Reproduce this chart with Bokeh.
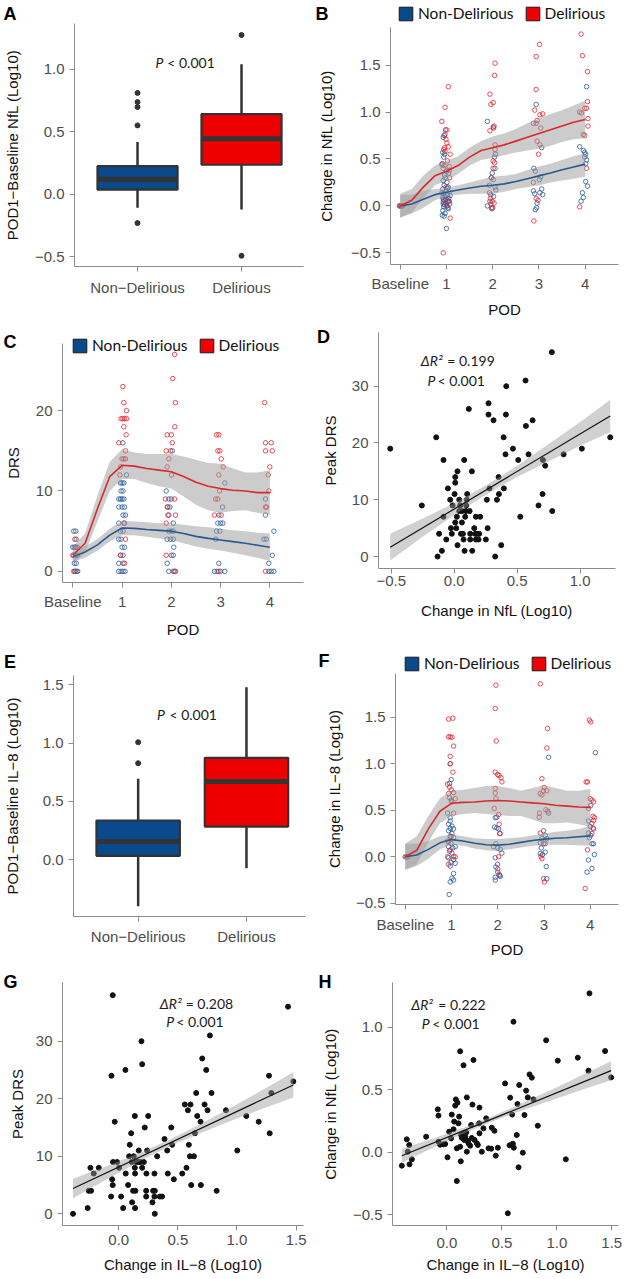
from bokeh.plotting import figure
from bokeh.models import (Range1d, FixedTicker, Label, Legend, LegendItem,
                          CustomJSTickFormatter)
from bokeh.layouts import row, column
from bokeh.embed import file_html
from bokeh.resources import INLINE

AX_FONT = "Liberation Sans"
ANN_FONT = "Lato"
NAN = float("nan")

# ---------------- shared categories / ticks ----------------
GROUPS = ["Non-Delirious", "Delirious"]
BOX_CATS = ["Non\u2212Delirious", "Delirious"]
POD_TICKS = [0, 1, 2, 3, 4]
POD_LABELS = ["Baseline", "1", "2", "3", "4"]

# ---------------- Panel A: POD1-Baseline NfL box plot ----------------
A_q1 = [0.035, 0.235]
A_med = [0.118, 0.444]
A_q3 = [0.224, 0.641]
A_lo = [-0.109, -0.123]
A_hi = [0.417, 1.04]
A_out = [[0.81, 0.737, 0.697, 0.55, -0.232], [1.274, -0.494]]

# ---------------- Panel E: POD1-Baseline IL-8 box plot ----------------
E_q1 = [0.032, 0.283]
E_med = [0.155, 0.67]
E_q3 = [0.335, 0.873]
E_lo = [-0.40, -0.075]
E_hi = [0.693, 1.48]
E_out = [[1.007, 0.827], []]

# ---------------- smooth curves (B, C, F) ----------------
SMOOTH_X = [0, 0.25, 0.5, 0.75, 1.0, 1.25, 1.5, 1.75, 2.0, 2.25, 2.5, 2.75, 3.0, 3.25, 3.5, 3.75, 4.0]

B_fit_d = [0.0, 0.06, 0.20, 0.32, 0.37, 0.43, 0.52, 0.59, 0.62, 0.65, 0.69, 0.73, 0.77, 0.81, 0.85, 0.89, 0.92]
B_lo_d = [-0.13, -0.07, 0.08, 0.22, 0.27, 0.34, 0.43, 0.49, 0.51, 0.54, 0.57, 0.59, 0.61, 0.64, 0.68, 0.71, 0.72]
B_hi_d = [0.13, 0.18, 0.32, 0.43, 0.48, 0.53, 0.62, 0.69, 0.74, 0.77, 0.82, 0.88, 0.93, 0.98, 1.02, 1.07, 1.12]
B_fit_n = [0.0, 0.02, 0.07, 0.12, 0.145, 0.17, 0.19, 0.21, 0.22, 0.235, 0.26, 0.29, 0.32, 0.35, 0.385, 0.415, 0.445]
B_lo_n = [-0.12, -0.08, -0.02, 0.06, 0.10, 0.12, 0.13, 0.13, 0.13, 0.15, 0.18, 0.20, 0.22, 0.25, 0.27, 0.29, 0.31]
B_hi_n = [0.12, 0.12, 0.16, 0.18, 0.19, 0.22, 0.25, 0.28, 0.31, 0.32, 0.34, 0.38, 0.42, 0.45, 0.49, 0.53, 0.56]

C_fit_d = [2.0, 3.5, 7.8, 11.8, 13.2, 13.1, 12.8, 12.6, 12.4, 11.8, 11.1, 10.6, 10.3, 10.1, 10.0, 9.8, 9.8]
C_lo_d = [0.9, 2.3, 6.2, 10.0, 11.5, 11.5, 11.0, 10.6, 10.3, 9.3, 8.3, 7.6, 7.3, 7.5, 7.6, 7.3, 7.0]
C_hi_d = [3.1, 4.7, 9.4, 13.6, 15.2, 14.8, 14.6, 14.6, 14.6, 14.3, 13.9, 13.5, 13.4, 12.8, 12.3, 12.3, 12.6]
C_fit_n = [1.8, 2.4, 3.3, 4.5, 5.4, 5.35, 5.2, 5.1, 5.0, 4.7, 4.35, 4.1, 3.9, 3.7, 3.5, 3.25, 3.0]
C_lo_n = [1.2, 1.7, 2.6, 3.7, 4.5, 4.5, 4.3, 4.1, 3.9, 3.5, 3.1, 2.8, 2.6, 2.3, 2.0, 1.7, 1.3]
C_hi_n = [2.4, 3.1, 4.0, 5.3, 6.3, 6.2, 6.1, 6.0, 6.0, 5.8, 5.6, 5.5, 5.3, 5.1, 5.0, 4.8, 4.7]

F_fit_d = [0.0, 0.07, 0.30, 0.49, 0.575, 0.585, 0.59, 0.60, 0.605, 0.60, 0.59, 0.58, 0.57, 0.555, 0.545, 0.535, 0.53]
F_lo_d = [-0.14, -0.08, 0.16, 0.36, 0.44, 0.46, 0.47, 0.46, 0.45, 0.44, 0.44, 0.40, 0.36, 0.36, 0.37, 0.35, 0.32]
F_hi_d = [0.14, 0.22, 0.44, 0.63, 0.71, 0.72, 0.74, 0.76, 0.76, 0.74, 0.71, 0.74, 0.77, 0.74, 0.71, 0.71, 0.73]
F_fit_n = [0.0, 0.02, 0.08, 0.15, 0.185, 0.17, 0.145, 0.13, 0.125, 0.135, 0.155, 0.175, 0.19, 0.20, 0.205, 0.215, 0.225]
F_lo_n = [-0.14, -0.10, -0.02, 0.08, 0.13, 0.12, 0.09, 0.07, 0.06, 0.08, 0.10, 0.12, 0.13, 0.13, 0.13, 0.125, 0.12]
F_hi_n = [0.14, 0.14, 0.17, 0.22, 0.24, 0.22, 0.20, 0.19, 0.19, 0.20, 0.21, 0.23, 0.25, 0.27, 0.28, 0.30, 0.33]

# ---------------- Panel B points (POD, change in NfL) ----------------
B_ND = [
    (-0.02, 0.0), (0.00, 0.0), (0.03, 0.0), (0.06, 0.0),
    (0.98, 0.81), (0.95, 0.75), (0.93, 0.73), (0.92, 0.57), (0.96, 0.55), (0.94, 0.52), (0.91, 0.45), (0.93, 0.40),
    (1.00, 0.37), (1.05, 0.35), (0.97, 0.30), (0.93, 0.27), (1.01, 0.25), (0.95, 0.22), (1.04, 0.20), (0.92, 0.18),
    (0.99, 0.16), (1.06, 0.15), (0.94, 0.13), (1.02, 0.12), (0.97, 0.10), (0.92, 0.09), (1.05, 0.08), (0.99, 0.07),
    (0.95, 0.06), (1.03, 0.05), (0.93, 0.04), (0.98, 0.03), (1.07, 0.02), (0.96, 0.01), (1.01, 0.00), (0.94, -0.01),
    (1.04, -0.03), (0.92, -0.05), (0.97, -0.08), (0.91, -0.10), (0.95, -0.11), (1.00, -0.24), (1.08, 0.11),
    (0.90, 0.14), (1.02, 0.19), (0.96, 0.33), (1.06, 0.05), (0.93, 0.02), (1.03, -0.02),
    (1.885, 0.90), (2.01, 0.84), (2.06, 0.55), (2.04, 0.52), (2.05, 0.40), (1.99, 0.35), (1.97, 0.30), (2.01, 0.28),
    (1.93, 0.22), (2.05, 0.20), (2.07, 0.17), (1.96, 0.12), (2.02, 0.10), (1.94, 0.05), (1.885, 0.00),
    (1.98, -0.02), (1.98, -0.03),
    (2.94, 1.08), (2.94, 0.88), (3.06, 0.62), (2.89, 0.40), (2.92, 0.37), (3.04, 0.31), (3.01, 0.28), (3.06, 0.18),
    (2.88, 0.16), (3.02, 0.14), (2.91, 0.13), (3.08, 0.12), (2.96, 0.03), (2.95, -0.02), (2.92, -0.04),
    (4.03, 1.27), (3.88, 0.63), (3.96, 0.59), (3.99, 0.57), (4.01, 0.55), (3.99, 0.52), (4.03, 0.49), (4.01, 0.26),
    (4.05, 0.21), (3.94, 0.14), (3.96, 0.09), (3.91, 0.05), (4.01, 0.45),
]
B_D = [
    (0.01, 0.0), (0.04, 0.0),
    (1.04, 1.27), (0.97, 1.05), (0.90, 0.90), (1.01, 0.81), (0.97, 0.76), (0.99, 0.71), (1.01, 0.67), (1.04, 0.63),
    (0.94, 0.60), (1.08, 0.55), (0.90, 0.44), (0.95, 0.43), (1.06, 0.38), (1.07, 0.30), (0.96, 0.62), (1.02, 0.48),
    (0.99, 0.20), (0.93, 0.07), (1.05, 0.05), (1.01, 0.0), (1.08, -0.13), (0.93, -0.50), (1.06, 0.42), (0.97, 0.58),
    (2.05, 1.52), (2.04, 1.39), (1.94, 1.19), (2.01, 1.10), (1.96, 1.08), (2.03, 0.85), (2.02, 0.83), (1.94, 0.80),
    (2.05, 0.65), (2.05, 0.60), (2.01, 0.48), (2.04, 0.46), (2.01, 0.40), (1.97, 0.30), (1.93, 0.14), (1.95, 0.08),
    (1.99, 0.05), (2.03, 0.03), (1.96, 0.02), (2.00, -0.02),
    (3.01, 1.72), (2.94, 1.59), (2.94, 1.24), (2.91, 1.02), (3.08, 0.98), (3.02, 0.97), (2.96, 0.91), (2.88, 0.88),
    (3.04, 0.83), (2.96, 0.69), (3.02, 0.65), (2.99, 0.55), (2.88, 0.25), (2.94, 0.08), (2.98, 0.06), (2.89, -0.16),
    (3.91, 1.83), (3.94, 1.60), (4.05, 1.43), (4.05, 1.11), (4.03, 1.04), (3.99, 1.04), (3.88, 1.00), (3.92, 0.99),
    (4.06, 0.93), (4.06, 0.85), (3.96, 0.76), (3.99, 0.75), (4.03, 0.40), (3.88, -0.01),
]

# ---------------- Panel C points (POD, DRS) ----------------
C_ND = [
    (0.02, 0), (0.05, 0), (0.08, 0), (0.10, 0), (0.03, 1), (0.07, 1), (0.02, 2), (0.06, 2), (0.09, 2), (0.00, 3),
    (0.03, 3), (0.06, 3), (0.09, 3), (0.07, 4), (0.02, 5), (0.06, 5),
    (1.016, 16), (1.09, 12), (0.968, 11), (1.00, 11), (1.036, 11), (0.98, 10), (1.02, 10), (0.934, 9), (0.968, 9),
    (1.00, 9), (1.036, 9), (0.934, 8), (1.00, 8), (1.05, 8), (1.02, 7), (1.07, 7), (0.934, 6), (1.05, 6), (0.968, 5),
    (1.02, 5), (0.934, 4), (0.98, 4), (1.00, 3), (1.05, 3), (0.968, 2), (1.02, 2), (0.934, 1), (1.02, 1), (0.934, 0),
    (0.98, 0), (1.02, 0), (1.06, 0),
    (2.02, 15), (1.896, 10), (1.95, 9), (2.0, 9), (1.93, 8), (1.97, 8), (1.95, 7), (2.04, 6), (1.95, 5), (2.0, 5),
    (2.04, 5), (1.916, 4), (1.984, 4), (2.04, 4), (2.05, 3), (2.0, 2), (2.04, 2), (1.916, 1), (1.95, 0), (2.04, 0),
    (2.085, 0),
    (3.087, 11), (3.04, 8), (2.965, 7), (2.945, 6), (3.0, 6), (3.047, 6), (2.92, 5), (2.986, 5), (2.9, 4), (2.965, 1),
    (2.877, 0), (2.93, 0), (3.0, 0), (3.087, 0),
    (3.913, 9), (3.913, 7), (4.083, 5), (3.88, 4), (3.927, 4), (4.05, 2), (3.98, 1), (3.98, 0), (4.028, 0), (4.083, 0),
]
C_D = [
    (0.04, 0), (0.00, 2), (0.06, 3), (0.04, 4),
    (1.016, 23), (1.036, 21), (1.09, 20), (0.98, 19), (1.016, 19), (1.05, 19), (1.09, 19), (1.036, 18), (1.083, 17),
    (0.934, 16), (1.07, 15), (1.00, 14), (1.036, 14), (1.07, 14), (0.968, 13), (0.955, 12), (1.036, 6), (1.07, 4),
    (0.968, 2), (1.05, 1),
    (2.065, 27), (2.03, 24), (2.085, 21), (2.07, 18), (1.916, 17), (2.0, 17), (2.02, 16), (1.896, 15), (1.984, 15),
    (1.95, 14), (1.916, 13), (2.004, 12), (1.88, 9), (2.065, 9), (1.916, 8), (1.93, 7), (2.085, 7), (1.896, 6),
    (1.896, 2), (2.065, 0),
    (2.92, 17), (2.965, 17), (2.945, 15), (2.986, 15), (3.013, 14), (3.054, 13), (2.965, 12), (2.98, 10), (2.9, 9),
    (2.945, 9), (2.877, 7), (3.013, 7), (2.965, 0),
    (3.893, 21), (3.913, 16), (4.028, 16), (3.913, 15), (4.05, 15), (4.0, 13), (3.968, 12), (3.98, 10), (3.913, 8),
    (3.934, 8), (3.913, 0),
]

# ---------------- Panel F points (POD, change in IL-8) ----------------
F_ND = [
    (0.00, 0.0), (0.04, 0.0),
    (0.973, 1.0), (0.995, 0.83), (0.959, 0.79), (0.959, 0.635), (0.995, 0.61), (0.915, 0.47), (0.973, 0.42),
    (0.973, 0.385), (0.937, 0.35), (1.01, 0.33), (0.973, 0.305), (1.045, 0.3), (0.937, 0.28), (1.01, 0.25),
    (0.973, 0.22), (1.045, 0.205), (0.922, 0.17), (0.987, 0.145), (0.937, 0.11), (1.03, 0.095), (1.08, 0.11),
    (0.959, 0.06), (1.01, 0.04), (0.937, -0.01), (1.045, -0.03), (0.987, -0.06), (1.08, -0.07), (0.973, -0.1),
    (1.045, -0.18), (1.01, -0.23), (0.973, -0.27), (1.045, -0.25), (0.95, -0.405),
    (1.946, 0.42), (1.98, 0.425), (1.93, 0.32), (1.98, 0.31), (2.02, 0.3), (2.04, 0.25), (1.96, 0.14), (1.91, 0.11),
    (2.0, 0.095), (2.054, 0.08), (2.09, 0.04), (1.946, -0.01), (1.996, -0.08), (1.96, -0.11), (2.0, -0.165),
    (1.946, -0.22), (2.054, -0.21), (1.946, -0.25), (2.04, -0.2),
    (3.1, 1.07), (3.1, 0.47), (2.99, 0.28), (3.027, 0.23), (2.955, 0.195), (3.06, 0.195), (2.92, 0.15), (3.027, 0.14),
    (2.94, 0.095), (3.027, 0.05), (2.92, 0.035), (2.97, 0.024), (3.05, -0.105), (3.06, -0.235),
    (4.11, 1.12), (4.01, 0.55), (3.96, 0.385), (4.0, 0.325), (4.06, 0.31), (3.96, 0.255), (4.01, 0.23), (3.98, 0.205),
    (4.036, 0.14), (4.07, 0.14), (4.09, 0.024), (3.96, -0.035), (4.036, -0.125), (3.93, -0.165),
]
F_D = [
    (0.02, 0.0), (0.06, 0.0),
    (0.937, 1.48), (1.03, 1.49), (0.937, 1.29), (0.973, 1.29), (1.01, 1.285), (1.045, 1.19), (0.973, 1.08),
    (0.973, 1.0), (1.03, 0.91), (0.915, 0.78), (0.959, 0.75), (0.995, 0.72), (1.045, 0.69), (0.937, 0.68),
    (1.08, 0.625), (1.01, 0.59), (1.045, 0.47), (0.995, 0.22), (0.937, 0.16), (1.045, 0.0), (0.915, 0.0), (1.08, 0.0),
    (0.937, -0.08), (0.973, 0.075),
    (1.96, 1.845), (1.946, 1.595), (1.968, 1.245), (1.946, 0.91), (1.996, 0.885), (2.03, 0.875), (2.07, 0.85),
    (2.09, 0.805), (1.946, 0.735), (1.946, 0.685), (1.96, 0.625), (1.924, 0.52), (2.02, 0.455), (2.03, 0.35),
    (2.054, 0.25), (2.02, 0.0), (2.0, -0.13), (2.03, -0.19),
    (2.92, 1.86), (3.077, 1.38), (3.06, 1.17), (2.955, 0.84), (3.004, 0.745), (2.99, 0.71), (2.92, 0.68),
    (2.955, 0.665), (3.06, 0.71), (3.04, 0.505), (3.084, 0.49), (2.904, 0.47), (2.897, 0.425), (2.92, 0.255),
    (2.99, 0.14), (2.933, 0.007), (2.955, -0.02), (2.99, -0.235), (3.01, -0.27),
    (3.98, 1.47), (4.01, 1.45), (3.91, 0.805), (3.94, 0.805), (4.0, 0.625), (4.036, 0.61), (4.07, 0.59), (3.96, 0.52),
    (4.06, 0.435), (4.09, 0.42), (4.07, 0.39), (4.036, 0.36), (4.07, 0.3), (4.036, 0.25), (3.94, 0.075), (3.89, -0.34),
]

# ---------------- Panel D: change in NfL vs peak DRS ----------------
D_PTS = [
    (-0.508, 19), (-0.257, 9), (-0.143, 21), (-0.12, 4), (-0.132, 0), (-0.098, 1), (-0.085, 17), (-0.085, 7),
    (-0.063, 3), (-0.05, 12), (-0.032, 10), (-0.026, 5), (-0.019, 4), (-0.013, 9), (0.003, 11), (0.008, 14),
    (0.008, 13), (0.008, 6), (0.016, 5), (0.021, 7), (0.026, 15), (0.026, 2), (0.04, 10), (0.04, 8), (0.048, 9),
    (0.053, 4), (0.061, 8), (0.061, 6), (0.069, 4), (0.074, 3), (0.079, 17), (0.082, 1), (0.087, 7), (0.093, 8),
    (0.095, 9), (0.1, 10), (0.103, 11), (0.116, 26), (0.122, 8), (0.127, 4), (0.127, 3), (0.14, 15), (0.143, 1),
    (0.159, 5), (0.167, 4), (0.172, 7), (0.172, 3), (0.18, 4), (0.193, 3), (0.198, 4), (0.206, 7), (0.251, 3),
    (0.259, 10), (0.265, 5), (0.272, 27), (0.272, 25), (0.28, 12), (0.312, 24), (0.339, 10), (0.325, 0), (0.352, 14),
    (0.355, 11), (0.373, 2), (0.392, 21), (0.394, 12), (0.407, 18), (0.413, 30), (0.41, 25), (0.466, 19), (0.508, 17),
    (0.524, 7), (0.566, 31), (0.569, 23), (0.59, 18), (0.622, 24), (0.669, 9), (0.701, 11), (0.704, 17), (0.722, 16),
    (0.775, 36), (0.778, 8), (0.868, 18), (1.013, 19), (1.238, 21),
]
D_LINE_X = [-0.508, 1.238]
D_LINE_Y = [1.64, 24.77]
D_BAND_X = [-0.508, -0.25, 0.0, 0.25, 0.5, 0.75, 1.0, 1.238]
D_BAND_LO = [-0.7, 3.5, 7.3, 10.9, 14.0, 16.8, 19.5, 21.9]
D_BAND_HI = [4.0, 6.7, 9.4, 12.5, 16.0, 19.8, 23.7, 27.6]

# ---------------- Panel G: change in IL-8 vs peak DRS ----------------
G_PTS = [
    (-0.387, 0), (-0.263, 1), (-0.254, 4), (-0.24, 8), (-0.234, 4), (-0.212, 7), (-0.169, 8), (-0.065, 3),
    (-0.062, 24), (-0.056, 6), (-0.051, 38), (-0.051, 5), (-0.048, 9), (-0.034, 16), (-0.014, 9), (0.003, 8),
    (0.02, 3), (0.037, 1), (0.056, 25), (0.059, 7), (0.079, 5), (0.088, 10), (0.093, 12), (0.105, 14), (0.11, 9),
    (0.113, 2), (0.121, 4), (0.127, 10), (0.136, 17), (0.136, 8), (0.138, 7), (0.138, 1), (0.141, 4), (0.147, 9),
    (0.167, 9), (0.169, 11), (0.184, 9), (0.192, 30), (0.198, 26), (0.198, 8), (0.212, 9), (0.22, 15), (0.232, 4),
    (0.232, 3), (0.234, 7), (0.24, 11), (0.249, 17), (0.285, 2), (0.291, 4), (0.302, 7), (0.302, 3), (0.305, 4),
    (0.305, 0), (0.325, 10), (0.347, 3), (0.367, 3), (0.387, 13), (0.41, 11), (0.415, 7), (0.444, 15), (0.452, 12),
    (0.466, 6), (0.537, 7), (0.559, 19), (0.573, 8), (0.585, 18), (0.593, 12), (0.602, 10), (0.607, 19), (0.613, 5),
    (0.636, 10), (0.644, 14), (0.655, 21), (0.664, 17), (0.692, 16), (0.695, 5), (0.706, 27), (0.726, 19),
    (0.74, 25), (0.751, 18), (0.771, 31), (0.785, 21), (0.828, 4), (0.907, 18), (1.003, 11), (1.079, 17),
    (1.184, 16), (1.271, 24), (1.277, 14), (1.291, 21), (1.432, 36), (1.477, 23),
]
G_LINE_X = [-0.387, 1.477]
G_LINE_Y = [4.4, 22.4]
G_BAND_X = [-0.387, -0.1, 0.2, 0.45, 0.7, 1.0, 1.25, 1.477]
G_BAND_LO = [2.7, 6.0, 9.4, 11.9, 14.1, 16.55, 18.5, 20.2]
G_BAND_HI = [6.1, 8.3, 10.8, 13.1, 15.7, 19.05, 21.9, 24.6]

# ---------------- Panel H: change in IL-8 vs change in NfL ----------------
H_PTS = [
    (-0.409, -0.107), (-0.364, 0.104), (-0.355, 0.005), (-0.342, 0.059), (-0.339, -0.096), (-0.318, -0.056),
    (-0.188, 0.125), (-0.082, 0.344), (-0.076, 0.294), (-0.076, 0.085), (-0.061, 0.061), (-0.03, 0.064),
    (-0.015, 0.067), (0.006, -0.04), (0.021, 0.165), (0.039, 0.112), (0.045, 0.302), (0.061, 0.184), (0.067, 0.246),
    (0.076, 0.374), (0.082, 0.424), (0.091, -0.23), (0.091, 0.032), (0.097, 0.398), (0.106, 0.232), (0.112, 0.286),
    (0.121, 0.809), (0.121, 0.045), (0.127, -0.072), (0.13, 0.139), (0.136, 0.117), (0.152, 0.697), (0.152, 0.152),
    (0.158, 0.099), (0.167, 0.125), (0.176, 0.16), (0.182, 0.44), (0.182, 0.005), (0.191, 0.091), (0.197, 0.072),
    (0.212, 0.053), (0.221, 0.219), (0.227, 0.115), (0.233, 0.382), (0.242, 0.739), (0.252, 0.099), (0.273, 0.072),
    (0.282, 0.059), (0.294, 0.232), (0.297, 0.152), (0.297, 0.358), (0.318, 0.005), (0.333, 0.192), (0.358, 0.272),
    (0.379, 0.032), (0.403, 0.029), (0.409, 0.197), (0.433, 0.173), (0.445, -0.027), (0.464, 0.037), (0.53, 0.552),
    (0.555, -0.488), (0.57, 0.056), (0.576, 0.438), (0.594, 0.302), (0.6, 0.069), (0.606, 1.046), (0.609, 0.037),
    (0.636, 0.139), (0.642, 0.387), (0.652, -0.12), (0.658, 0.539), (0.691, -0.003), (0.706, 0.299), (0.721, 0.494),
    (0.736, 0.44), (0.752, 0.624), (0.773, 0.598), (0.788, 0.424), (0.827, 0.213), (0.903, 0.897), (1.009, 0.734),
    (1.082, -0.056), (1.191, 0.758), (1.288, 0.654), (1.297, 1.273), (1.439, 0.811), (1.494, 0.6),
]
H_LINE_X = [-0.409, 1.494]
H_LINE_Y = [-0.027, 0.654]
H_BAND_X = [-0.409, -0.1, 0.2, 0.45, 0.7, 1.0, 1.25, 1.494]
H_BAND_LO = [-0.083, 0.048, 0.169, 0.258, 0.34, 0.432, 0.507, 0.578]
H_BAND_HI = [0.029, 0.118, 0.213, 0.302, 0.40, 0.522, 0.627, 0.73]

# ---------------- style ----------------
BOX_COLORS = ["#0a4a8c", "#ee0000"]
PT_COLORS = ["#2a5b9b", "#e3262c"]
LINE_COLORS = ["#2a5891", "#d82a2e"]
DARK = "#333333"
AXIS_GRAY = "#8c8c8c"
BAND = "#9a9a9a"


def make_fig(w, h, L, T, R, B, xr, yr):
    p = figure(width=w, height=h, x_range=Range1d(*xr), y_range=Range1d(*yr),
               output_backend="svg", toolbar_location=None, title=None,
               min_border_left=L, min_border_top=T, min_border_right=w - R,
               min_border_bottom=h - B, frame_align=False)
    p.xgrid.visible = False
    p.ygrid.visible = False
    p.outline_line_color = None
    p.background_fill_color = "white"
    p.border_fill_color = "white"
    return p


def make_overlay(w, h):
    # transparent sheet laid over a panel: holds the panel letter and the legend
    o = figure(width=w, height=h, x_range=Range1d(0, w), y_range=Range1d(h, 0),
               x_axis_location=None, y_axis_location=None, output_backend="svg",
               toolbar_location=None, title=None, min_border=0,
               min_border_left=0, min_border_right=0, min_border_top=0, min_border_bottom=0,
               margin=(-h, 0, 0, 0), frame_align=False)
    o.grid.visible = False
    o.outline_line_color = None
    o.background_fill_alpha = 0
    o.border_fill_alpha = 0
    return o


def fmt(tv, tl):
    return CustomJSTickFormatter(args=dict(tv=tv, tl=tl), code="""
        for (let i = 0; i < tv.length; i++) { if (Math.abs(tv[i] - tick) < 1e-9) return tl[i]; }
        return "";
    """)


def style_axes(p, xt, xl, yt, yl, xlabel, ylabel, x_std, xlab_std, ylab_std):
    for ax in (p.xaxis[0], p.yaxis[0]):
        ax.axis_line_color = AXIS_GRAY
        ax.axis_line_width = 1
        ax.major_tick_line_color = AXIS_GRAY
        ax.major_tick_out = 5
        ax.major_tick_in = 0
        ax.minor_tick_line_color = None
        ax.major_label_text_font = AX_FONT
        ax.major_label_text_font_size = "15px"
        ax.major_label_text_color = "#4d4d4d"
        ax.axis_label_text_font = AX_FONT
        ax.axis_label_text_font_size = "15px"
        ax.axis_label_text_font_style = "normal"
        ax.axis_label_text_color = "#111111"
    xa, ya = p.xaxis[0], p.yaxis[0]
    xa.ticker = FixedTicker(ticks=xt)
    xa.formatter = fmt(xt, xl)
    ya.ticker = FixedTicker(ticks=yt)
    ya.formatter = fmt(yt, yl)
    xa.major_label_standoff = x_std
    ya.major_label_standoff = 5
    if xlabel:
        xa.axis_label = xlabel
        xa.axis_label_standoff = xlab_std
    ya.axis_label = ylabel
    ya.axis_label_standoff = ylab_std


def letter(o, s, fx, fy):
    o.add_layout(Label(x=fx, y=fy, text=s, text_font=AX_FONT, text_font_size="18px",
                       text_font_style="bold", text_color="#000000",
                       text_align="left", text_baseline="middle"))


def txt(p, x, y, s, style="normal", size="14px"):
    p.add_layout(Label(x=x, y=y, text=s, text_font=ANN_FONT, text_font_size=size,
                       text_font_style=style, text_color="#1a1a1a",
                       text_align="left", text_baseline="middle"))


def pval(p, xp, xr_, y):
    txt(p, xp, y, "P", style="italic")
    txt(p, xr_, y, "< 0.001")


def box_panel(p, q1, med, q3, lo, hi, outs):
    xs = [i + 1 for i in range(len(BOX_CATS))]
    hw = 0.385
    p.segment(x0=xs, y0=q3, x1=xs, y1=hi, line_color=DARK, line_width=2.5)
    p.segment(x0=xs, y0=q1, x1=xs, y1=lo, line_color=DARK, line_width=2.5)
    p.quad(left=[x - hw for x in xs], right=[x + hw for x in xs], bottom=q1, top=q3,
           fill_color=BOX_COLORS, line_color=DARK, line_width=2.2)
    p.segment(x0=[x - hw for x in xs], x1=[x + hw for x in xs], y0=med, y1=med,
              line_color=DARK, line_width=5)
    ox, oy = [], []
    for i, vals in enumerate(outs):
        for v in vals:
            ox.append(xs[i])
            oy.append(v)
    p.scatter(ox, oy, size=5, color=DARK)


def pod_panel(p, nd, d, fits):
    for pts, col in ((nd, PT_COLORS[0]), (d, PT_COLORS[1])):
        p.scatter([a for a, b in pts], [b for a, b in pts], marker="circle", size=4.5,
                  fill_color=None, line_color=col, line_width=1, line_alpha=0.8)
    for fit, lo, hi, col in fits:
        p.varea(x=SMOOTH_X, y1=lo, y2=hi, fill_color=BAND, fill_alpha=0.5)
    for fit, lo, hi, col in fits:
        p.line(SMOOTH_X, fit, line_color=col, line_width=1.6)


def add_legend(o, vx, vy):
    # legend swatches: one undrawn (NaN) row each, so only the legend shows them
    r1 = o.quad(left=[NAN], right=[NAN], top=[NAN], bottom=[NAN],
                fill_color=BOX_COLORS[0], line_color="#1a1a1a", line_width=1)
    r2 = o.quad(left=[NAN], right=[NAN], top=[NAN], bottom=[NAN],
                fill_color=BOX_COLORS[1], line_color="#1a1a1a", line_width=1)
    leg = Legend(items=[LegendItem(label=GROUPS[0], renderers=[r1]),
                        LegendItem(label=GROUPS[1], renderers=[r2])],
                 location=(vx, vy), orientation="horizontal",
                 glyph_width=17, glyph_height=17, label_height=17, label_width=10,
                 label_standoff=4, spacing=10, padding=0, margin=0,
                 border_line_alpha=0, background_fill_alpha=0,
                 label_text_font=ANN_FONT, label_text_font_size="15.5px",
                 label_text_color="#111111")
    o.add_layout(leg)


def scatter_panel(p, pts, lx, ly, bx, blo, bhi):
    p.scatter([a for a, b in pts], [b for a, b in pts], size=5, color="#111111")
    p.varea(x=bx, y1=blo, y2=bhi, fill_color=BAND, fill_alpha=0.45)
    p.line(lx, ly, line_color="#111111", line_width=1.2)


M = "\u2212"
NFL_Y4 = [-0.5, 0.0, 0.5, 1.0]
NFL_Y4L = [M + "0.5", "0.0", "0.5", "1.0"]
NFL_Y5 = [-0.5, 0.0, 0.5, 1.0, 1.5]
NFL_Y5L = [M + "0.5", "0.0", "0.5", "1.0", "1.5"]
IL8_BOX_Y = [0.0, 0.5, 1.0, 1.5]
IL8_BOX_YL = ["0.0", "0.5", "1.0", "1.5"]
DRS_C = [0, 10, 20]
DRS_CL = ["0", "10", "20"]
DRS_P = [0, 10, 20, 30]
DRS_PL = ["0", "10", "20", "30"]
D_XT = [-0.5, 0.0, 0.5, 1.0]
D_XTL = [M + "0.5", "0.0", "0.5", "1.0"]
IL8_XT = [0.0, 0.5, 1.0, 1.5]
IL8_XTL = ["0.0", "0.5", "1.0", "1.5"]

W = 313

# ---------------- A ----------------
pA = make_fig(W, 320, 74, 23, 303, 266, (0.394, 2.596), (-0.58, 1.366))
box_panel(pA, A_q1, A_med, A_q3, A_lo, A_hi, A_out)
style_axes(pA, [1, 2], BOX_CATS, NFL_Y4, NFL_Y4L, None, "POD1" + M + "Baseline NfL (Log10)", 7, 0, 11)
pval(pA, 1.173, 1.286, 1.05)
oA = make_overlay(W, 320)
letter(oA, "A", 3, 13.5)

# ---------------- B ----------------
pB = make_fig(W, 320, 77, 27, 305, 265, (-0.21, 4.72), (-0.624, 1.90))
pod_panel(pB, B_ND, B_D, [(B_fit_n, B_lo_n, B_hi_n, LINE_COLORS[0]), (B_fit_d, B_lo_d, B_hi_d, LINE_COLORS[1])])
style_axes(pB, POD_TICKS, POD_LABELS, NFL_Y5, NFL_Y5L, "POD", "Change in NfL (Log10)", 5, 6, 13)
oB = make_overlay(W, 320)
add_legend(oB, 84, 298)
letter(oB, "B", 2, 13.5)

# ---------------- C ----------------
pC = make_fig(W, 320, 62, 23, 303, 265, (-0.209, 4.684), (-1.39, 28.36))
pod_panel(pC, C_ND, C_D, [(C_fit_n, C_lo_n, C_hi_n, LINE_COLORS[0]), (C_fit_d, C_lo_d, C_hi_d, LINE_COLORS[1])])
style_axes(pC, POD_TICKS, POD_LABELS, DRS_C, DRS_CL, "POD", "DRS", 5, 8, 11)
oC = make_overlay(W, 320)
add_legend(oC, 71, 286)
letter(oC, "C", 3, 21.7)

# ---------------- D ----------------
pD = make_fig(W, 320, 65, 12, 302, 248, (-0.601, 1.28), (-2.11, 39.46))
scatter_panel(pD, D_PTS, D_LINE_X, D_LINE_Y, D_BAND_X, D_BAND_LO, D_BAND_HI)
style_axes(pD, D_XT, D_XTL, DRS_P, DRS_PL, "Change in NfL (Log10)", "Peak DRS", 2, 13, 10)
txt(pD, -0.265, 34.5, "\u0394R\u00b2", style="italic")
txt(pD, -0.055, 34.5, "= 0.199")
pval(pD, -0.212, -0.133, 31.0)
oD = make_overlay(W, 320)
letter(oD, "D", 3.5, 16.7)

# ---------------- E ----------------
pE = make_fig(W, 320, 73, 35, 305, 276, (0.403, 2.545), (-0.489, 1.58))
box_panel(pE, E_q1, E_med, E_q3, E_lo, E_hi, E_out)
style_axes(pE, [1, 2], BOX_CATS, IL8_BOX_Y, IL8_BOX_YL, None, "POD1" + M + "Baseline IL" + M + "8 (Log10)", 6, 0, 19)
pval(pE, 1.175, 1.289, 1.245)
oE = make_overlay(W, 320)
letter(oE, "E", 3.5, 21.7)

# ---------------- F ----------------
pF = make_fig(W, 320, 82, 33, 305, 274, (-0.21, 4.61), (-0.513, 1.971))
pod_panel(pF, F_ND, F_D, [(F_fit_n, F_lo_n, F_hi_n, LINE_COLORS[0]), (F_fit_d, F_lo_d, F_hi_d, LINE_COLORS[1])])
style_axes(pF, POD_TICKS, POD_LABELS, NFL_Y5, NFL_Y5L, "POD", "Change in IL" + M + "8 (Log10)", 6, 5, 10)
oF = make_overlay(W, 320)
add_legend(oF, 90, 288)
letter(oF, "F", 5, 20)

# ---------------- G ----------------
pG = make_fig(W, 319, 62, 22, 303, 265, (-0.476, 1.563), (-2.03, 40.2))
scatter_panel(pG, G_PTS, G_LINE_X, G_LINE_Y, G_BAND_X, G_BAND_LO, G_BAND_HI)
style_axes(pG, IL8_XT, IL8_XTL, DRS_P, DRS_PL, "Change in IL" + M + "8 (Log10)", "Peak DRS", 4, 8, 7)
txt(pG, 0.347, 36.5, "\u0394R\u00b2", style="italic")
txt(pG, 0.566, 36.5, "= 0.208")
pval(pG, 0.401, 0.486, 33.5)
oG = make_overlay(W, 319)
letter(oG, "G", 3, 21.7)

# ---------------- H ----------------
pH = make_fig(W, 319, 79, 22, 305, 265, (-0.494, 1.561), (-0.586, 1.36))
scatter_panel(pH, H_PTS, H_LINE_X, H_LINE_Y, H_BAND_X, H_BAND_LO, H_BAND_HI)
style_axes(pH, IL8_XT, IL8_XTL, NFL_Y4, NFL_Y4L, "Change in IL" + M + "8 (Log10)", "Change in NfL (Log10)", 7, 5, 11)
txt(pH, -0.324, 1.18, "\u0394R\u00b2", style="italic")
txt(pH, -0.078, 1.18, "= 0.222")
pval(pH, -0.227, -0.133, 1.034)
oH = make_overlay(W, 319)
letter(oH, "H", 5, 21.7)

layout = column(
    row(column(pA, oA), column(pB, oB)),
    row(column(pC, oC), column(pD, oD)),
    row(column(pE, oE), column(pF, oF)),
    row(column(pG, oG), column(pH, oH)),
)
open("out.html", "w").write(file_html(layout, INLINE))
